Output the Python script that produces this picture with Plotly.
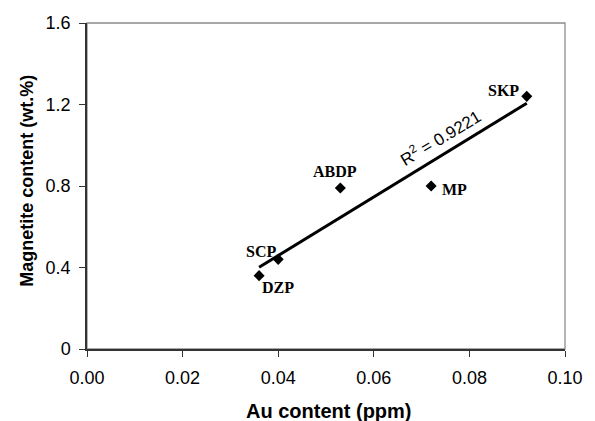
import numpy as np
import plotly.graph_objects as go

# Data
samples = ["SKP", "ABDP", "MP", "SCP", "DZP"]
au_ppm = [0.092, 0.053, 0.072, 0.040, 0.036]
magnetite_wt = [1.24, 0.79, 0.80, 0.44, 0.36]

x_ticks = [0.00, 0.02, 0.04, 0.06, 0.08, 0.10]
y_ticks = [0, 0.4, 0.8, 1.2, 1.6]

# Label offsets (pixels) for sample names
label_shift = {
    "SKP": (-23, 6),
    "ABDP": (-5, 17),
    "MP": (23, -3),
    "SCP": (-17, 8),
    "DZP": (19, -12),
}

# Linear trendline from data
xa = np.array(au_ppm)
ya = np.array(magnetite_wt)
slope, intercept = np.polyfit(xa, ya, 1)
r2 = np.corrcoef(xa, ya)[0, 1] ** 2
x_fit = np.array([xa.min(), xa.max()])
y_fit = slope * x_fit + intercept

fig = go.Figure()
fig.add_trace(go.Scatter(
    x=x_fit, y=y_fit, mode="lines",
    line=dict(color="black", width=3), hoverinfo="skip", showlegend=False,
))
fig.add_trace(go.Scatter(
    x=au_ppm, y=magnetite_wt, mode="markers",
    marker=dict(symbol="diamond", size=8.5, color="black"),
    showlegend=False,
))

for name, xv, yv in zip(samples, au_ppm, magnetite_wt):
    dx, dy = label_shift[name]
    fig.add_annotation(
        x=xv, y=yv, xref="x", yref="y", text=f"<b>{name}</b>", showarrow=False,
        xshift=dx, yshift=dy,
        font=dict(family="Liberation Serif, Times New Roman, serif", size=16, color="black"),
    )

# R^2 label along the trendline
fig.add_annotation(
    x=0.0739, y=1.04, xref="x", yref="y",
    text=f"R<sup>2</sup> = {r2:.4f}", showarrow=False, textangle=-31,
    font=dict(family="Liberation Sans, Arial, sans-serif", size=17, color="black"),
)

# Axis titles
fig.add_annotation(
    x=(334 - 87) / 487, y=-(411 - 349) / 326, xref="paper", yref="paper",
    text="<b>Au content (ppm)</b>", showarrow=False,
    xanchor="center", yanchor="middle",
    font=dict(family="Liberation Sans, Arial, sans-serif", size=20, color="black"),
)
fig.add_annotation(
    x=-(87 - 25) / 487, y=(349 - 180.5) / 326, xref="paper", yref="paper",
    text="<b>Magnetite content (wt.%)</b>", showarrow=False, textangle=-90,
    xanchor="center", yanchor="middle",
    font=dict(family="Liberation Sans, Arial, sans-serif", size=18, color="black"),
)

fig.add_shape(type="rect", xref="paper", yref="paper", x0=0, y0=0, x1=1, y1=1,
              line=dict(color="#8c8c8c", width=1.3), layer="below")

fig.update_layout(
    width=595, height=421,
    margin=dict(l=87, r=21, t=23, b=72),
    plot_bgcolor="white", paper_bgcolor="white",
    font=dict(family="Liberation Sans, Arial, sans-serif", size=18, color="black"),
    xaxis=dict(
        range=[0, 0.1], tickvals=x_ticks, tickformat=".2f",
        showgrid=False, zeroline=False,
        showline=True, linecolor="#333333", linewidth=1.5,
        ticks="outside", ticklen=6, tickcolor="#333333", tickwidth=1,
        tickfont=dict(size=18), ticklabelstandoff=6,
    ),
    yaxis=dict(
        range=[0, 1.6], tickvals=y_ticks,
        showgrid=False, zeroline=False,
        showline=True, linecolor="#333333", linewidth=1.5,
        ticks="outside", ticklen=6, tickcolor="#333333", tickwidth=1,
        tickfont=dict(size=18), ticklabelstandoff=5,
    ),
)

fig.write_html("out.html")
